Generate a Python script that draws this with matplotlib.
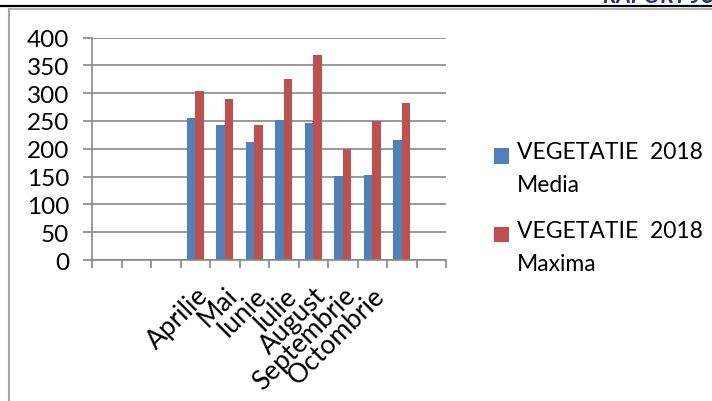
import numpy as np
import matplotlib
matplotlib.use("Agg")
import matplotlib.pyplot as plt
import matplotlib.transforms as mtransforms
from matplotlib.lines import Line2D
from matplotlib.patches import Rectangle
from matplotlib.container import BarContainer
from matplotlib.legend_handler import HandlerPatch

plt.rcParams['font.family'] = ['Lato', 'DejaVu Sans']

# 12 category slots, only some labelled
labels = ['', '', '', 'Aprilie', 'Mai', 'Iunie', 'Iulie', 'August',
          'Septembrie', 'Octombrie', '', '']
media = [0, 0, 0, 255, 243, 212, 252, 246, 151, 153, 216, 0]
maxima = [0, 0, 0, 303, 289, 242, 325, 369, 200, 249, 282, 0]
series_names = ['VEGETATIE  2018\nMedia', 'VEGETATIE  2018\nMaxima']
blue = '#4F81BD'
red = '#C0504D'
grey = '#888888'

W, H = 712, 402
fig = plt.figure(figsize=(W/100, H/100), dpi=100)
ax = fig.add_axes([92/W, 1-261/H, (446-92)/W, (261-38.5)/H])

x = np.arange(len(labels))
bw = 0.29
b1 = ax.bar(x - bw/2, media, bw, color=blue, label=series_names[0])
b2 = ax.bar(x + bw/2, maxima, bw, color=red, label=series_names[1])

ax.set_xlim(-0.5, len(labels)-0.5)
ax.set_ylim(0, 400)
ax.set_yticks(np.arange(0, 401, 50))
ax.yaxis.grid(True, color=grey, lw=1.2)
ax.set_axisbelow(True)
for s in ['top', 'right']:
    ax.spines[s].set_visible(False)
for s in ['left', 'bottom']:
    ax.spines[s].set_color(grey)
    ax.spines[s].set_linewidth(1.2)

ax.set_xticks(np.arange(-0.5, len(labels), 1))
ax.set_xticklabels([])
ax.set_xticks(x, minor=True)
ax.set_xticklabels(labels, minor=True, rotation=45, ha='right',
                   rotation_mode='anchor', fontsize=19)
shift = mtransforms.ScaledTranslation(-0.04, 0, fig.dpi_scale_trans)
for lab in ax.xaxis.get_minorticklabels():
    lab.set_transform(lab.get_transform() + shift)
ax.tick_params(axis='x', which='major', length=6, color=grey, width=1.2)
ax.tick_params(axis='x', which='minor', length=0, pad=16)
ax.tick_params(axis='y', length=6.5, color=grey, width=1.2, labelsize=17.5, pad=10)


# square marker next to the first line of each two-line label
def top_square(legend, orig_handle, xdescent, ydescent, width, height, fontsize):
    return Rectangle((-xdescent, -ydescent + 9), width, height)


def copy_style(handle, orig):
    handle.update_from(orig.patches[0])


leg = fig.legend(handles=[b1, b2], loc='upper left',
                 bbox_to_anchor=(494/W, 1-142/H), frameon=False, borderpad=0,
                 borderaxespad=0, fontsize=16.5, handlelength=0.65,
                 handleheight=0.65, handletextpad=0.35, labelspacing=1.08,
                 handler_map={BarContainer: HandlerPatch(patch_func=top_square,
                                                         update_func=copy_style)})
for t in leg.get_texts():
    t.set_linespacing(1.7)

# document frame lines
fig.add_artist(Line2D([0, 1], [1-7/H, 1-7/H], color='black', lw=1.6,
                      transform=fig.transFigure))
fig.add_artist(Line2D([8.5/W, 1], [1-10/H, 1-10/H], color='#A6A6A6', lw=1.2,
                      transform=fig.transFigure))
fig.add_artist(Line2D([8.5/W, 8.5/W], [0, 1-10/H], color='#A6A6A6', lw=1.5,
                      transform=fig.transFigure))
fig.text(603/W, 1-3/H, 'RAPORT JUDETEAN PRIVIND', color='#1F3864',
         fontsize=16, fontweight='bold', fontstyle='italic', va='baseline')

fig.savefig('out.png', dpi=100)
